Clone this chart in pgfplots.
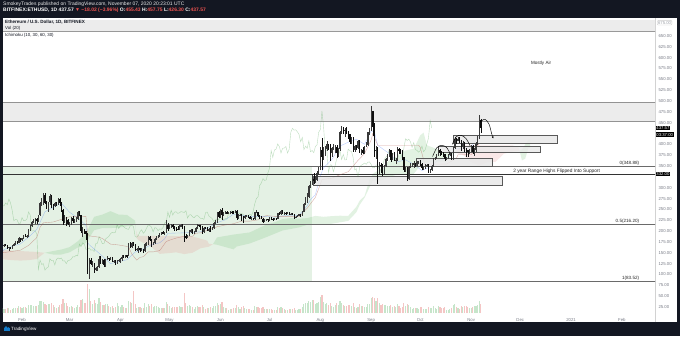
\documentclass[border=0pt]{standalone}
\usepackage{pgfplots}
\pgfplotsset{compat=1.18}
\usepackage{pgfplotstable}
\usetikzlibrary{arrows.meta}
\usepackage{fontspec}
\setmainfont{Liberation Sans}
\newcommand\fs[1]{\fontsize{#1}{#1}\selectfont}
\definecolor{tvdark}{HTML}{131722}
\definecolor{tvgray}{HTML}{787B86}
\definecolor{tvred}{HTML}{EF5350}
\definecolor{bandgray}{HTML}{ECECEC}
\definecolor{boxgray}{HTML}{E8E8E8}
\definecolor{zonegreen}{HTML}{E4F1E4}
\definecolor{lvlline}{HTML}{6A6A6A}
\definecolor{volup}{HTML}{C6E5CA}
\definecolor{voldn}{HTML}{F4C6C5}
\definecolor{candup}{HTML}{3A3A3A}
\definecolor{canddn}{HTML}{0E0E0E}
\definecolor{cloudg}{HTML}{4CAF50}
\definecolor{cloudr}{HTML}{E57373}
\definecolor{convline}{HTML}{2962FF}
\definecolor{baseln}{HTML}{B0524A}
\definecolor{lagline}{HTML}{43A047}
\pgfplotstableread{
d o h l c v u
19 166 171 163 167 5 1
20 167 170 164 169 4 1
21 169 171 166 168 4 0
22 168 169 158 162 5 0
23 162 164 155 162.5 5 1
24 162.5 163 158 160 3 0
25 160 169 158 168 4 1
26 168 172 166 170 5 1
27 170 177 168 175 5 1
28 175 178 171 173 5 0
29 173 186 172 184 7 1
30 184 185 176 180 6 0
31 180 185 178 183 5 1
32 183 191 182 189 6 1
33 189 194 186 188.5 6 0
34 188.5 192 184 189.5 5 1
35 189.5 206 187 204 8 1
36 204 215 201 212 8 1
37 212 224 210 222 8 1
38 222 227 218 223 7 1
39 223 230 217 228 7 1
40 228 230 217 223 7 0
41 223 238 221 236 8 1
42 236 268 235 265 12 1
43 265 276 258 268 12 1
44 268 288 260 284 11 1
45 284 287 263 265 9 0
46 265 269 250 258 8 0
47 258 268 244 267 9 1
48 267 285 261 282 9 1
49 282 283 253 259 10 0
50 259 262 248 258 8 0
51 258 267 255 265 6 1
52 265 267 258 261 5 0
53 261 276 260 274 6 1
54 274 277 258 265 8 0
55 265 266 245 248 9 0
56 248 251 215 224 14 0
57 224 236 219 227 10 1
58 227 232 212 226 10 0
59 226 228 215 217 7 0
60 217 220 210 218 6 1
61 218 233 214 231 7 1
62 231 234 219 224 6 0
63 224 228 219 224.5 5 1
64 224.5 232 222 228 6 1
65 228 247 226 244 8 1
66 244 246 235 237 6 0
67 237 238 196 200 13 0
68 200 209 187 201 14 1
69 201 205 193 200 10 0
70 200 201 180 194 10 0
71 194 195 100 112 29 0
72 112 137 90 133 24 1
73 133 137 121 123 12 0
74 123 130 118 125 9 1
75 125 126 103 110 13 0
76 110 118 107 115 10 1
77 115 120 108 117 9 1
78 117 143 115 136 15 1
79 136 142 124 132 11 0
80 132 135 124 132.5 8 1
81 132.5 135 118 122 8 0
82 122 136 117 135 9 1
83 135 142 133 138 9 1
84 138 139 130 136 7 0
85 136 140 133 138 6 1
86 138 140 128 131 7 0
87 131 133 126 131.5 5 1
88 131.5 133 122 125 6 0
89 125 134 123 132 10 1
90 132 136 128 133 7 1
91 133 138 127 135 6 1
92 135 146 132 141 8 1
93 141 145 138 140.5 6 0
94 140.5 146 139 144 5 1
95 144 145 139 143 5 0
96 143 173 142 170 12 1
97 170 176 162 164 11 0
98 164 175 162 173 10 1
99 173 174 166 170 22 0
100 170 171 155 158 9 0
101 158 160 155 158.5 5 1
102 158.5 166 150 161 6 1
103 161 162 152 156 6 0
104 156 160 153 157 5 1
105 157 158 150 153 5 0
106 153 173 151 171 10 1
107 171 174 166 171.5 6 1
108 171.5 188 169 187 9 1
109 187 188 178 180 7 0
110 180 181 164 171 9 0
111 171 175 167 171.5 6 1
112 171.5 184 170 182 7 1
113 182 189 180 185 7 1
114 185 190 184 188 6 1
115 188 195 186 194 5 1
116 194 199 192 197 5 1
117 197 200 193 196 5 0
118 196 199 192 197 5 1
119 197 226 196 215 11 1
120 215 219 201 206 9 0
121 206 215 204 212 7 1
122 212 216 208 214 5 1
123 214 216 205 210 6 0
124 210 212 201 207 6 0
125 207 209 200 205 6 0
126 205 211 202 204 6 0
127 204 215 203 212 7 1
128 212 216 209 213 6 1
129 213 216 205 211 6 0
130 211 212 176 188 20 0
131 188 194 181 186 10 0
132 186 192 184 190 7 1
133 190 203 189 199 8 1
134 199 205 196 203 7 1
135 203 204 193 195 6 0
136 195 200 194 199 4 1
137 199 210 198 207 6 1
138 207 216 205 214 7 1
139 214 215 209 213 6 0
140 213 215 203 209 6 0
141 209 211 194 198 8 0
142 198 209 195 208 6 1
143 208 210 204 207 4 0
144 207 209 200 201 5 0
145 201 207 199 205 5 1
146 205 211 199 204 6 0
147 204 209 202 208 5 1
148 208 221 206 219 7 1
149 219 225 216 220 7 1
150 220 245 218 244 10 1
151 244 247 230 232 8 0
152 232 251 231 248 9 1
153 248 253 225 237 11 0
154 237 245 235 244 6 1
155 244 247 239 244.5 5 1
156 244.5 246 239 241 5 0
157 241 244 240 242 3 1
158 242 246 239 245 4 1
159 245 247 240 244 4 0
160 244 247 239 243 5 0
161 243 249 242 247 5 1
162 247 248 225 230 8 0
163 230 239 229 237 6 1
164 237 239 234 238 4 1
165 238 239 224 233 6 0
166 233 235 219 231 7 0
167 231 237 229 235 5 1
168 235 238 232 236 4 1
169 236 237 231 233 4 0
170 233 234 227 229 4 0
171 229 232 226 229.5 3 1
172 229.5 230 226 227 3 0
173 227 245 226 243 7 1
174 243 249 241 244 6 1
175 244 245 232 235 6 0
176 235 236 228 232 5 0
177 232 234 228 229 5 0
178 229 230 219 222 6 0
179 222 227 220 226 4 1
180 226 229 224 228 4 1
181 228 228 222 226 4 0
182 226 232 224 231 4 1
183 231 232 225 229 4 0
184 229 230 224 226 3 0
185 226 230 225 229 3 1
186 229 230 226 228 3 0
187 228 242 227 241 6 1
188 241 244 237 239 5 0
189 239 248 237 247 6 1
190 247 248 239 242 5 0
191 242 243 236 242.5 4 1
192 242.5 243 238 240 3 0
193 240 243 239 242 3 1
194 242 244 237 240 4 0
195 240 242 236 240.5 4 1
196 240.5 241 236 238 4 0
197 238 239 229 233 5 0
198 233 234 230 233.5 3 1
199 233.5 237 232 236 3 1
200 236 240 234 239 4 1
201 239 240 233 236 4 0
202 236 246 235 245 6 1
203 245 265 244 263 9 1
204 263 278 261 275 10 1
205 275 288 265 279 10 1
206 279 307 277 305 12 1
207 305 315 299 311 11 1
208 311 330 307 321 13 1
209 321 335 309 317 13 0
210 317 326 312 318 9 1
211 318 339 316 334 10 1
212 334 349 332 345 11 1
213 345 395 341 386 16 1
214 386 415 340 370 18 0
215 370 393 365 387 11 1
216 387 396 374 389 9 1
217 389 407 385 401 10 1
218 401 402 386 395 8 0
219 395 400 362 380 10 0
220 380 395 372 391 7 1
221 391 400 387 391.5 6 1
222 391.5 398 381 395 8 1
223 395 398 368 380 10 0
224 380 391 370 389 8 1
225 389 431 385 428 12 1
226 428 442 425 437 10 1
227 437 440 423 433 8 0
228 433 437 417 433.5 7 1
229 433.5 441 423 429 7 0
230 429 432 412 423 8 0
231 423 425 402 406 8 0
232 406 418 402 416 7 1
233 416 418 383 388 10 0
234 388 398 383 396 6 1
235 396 398 388 391 5 0
236 391 410 390 408 6 1
237 408 410 379 383 9 0
238 383 390 375 386 7 1
239 386 393 377 381 7 0
240 381 397 378 395 6 1
241 395 405 393 399 6 1
242 399 429 397 428 9 1
243 428 437 422 434 9 1
244 434 488 430 477 15 1
245 477 478 420 440 16 0
246 440 450 370 385 15 0
247 385 397 367 388 12 1
248 388 393 308 335 15 0
249 335 359 331 353 10 1
250 353 356 333 352 8 0
251 352 354 326 337 9 0
252 337 353 332 351 8 1
253 351 369 348 367 8 1
254 367 377 362 373 7 1
255 373 390 370 386 7 1
256 386 388 360 365 8 0
257 365 380 364 377 6 1
258 377 383 361 364 7 0
259 364 369 355 365 6 1
260 365 393 362 389 9 1
261 389 392 377 385 7 0
262 385 389 378 384 5 0
263 384 386 365 370 6 0
264 370 371 336 341 10 0
265 341 349 336 344 7 1
266 344 348 316 321 9 0
267 321 351 318 348 8 1
268 348 356 345 352 6 1
269 352 357 349 354 4 1
270 354 361 346 357 5 1
271 357 358 349 354 5 0
272 354 361 350 359 5 1
273 359 362 355 359.5 4 1
274 359.5 363 350 354 6 0
275 354 357 340 346 6 0
276 346 348 342 346.5 4 1
277 346.5 354 344 352 4 1
278 352 355 348 353 4 1
279 353 354 335 340 6 0
280 340 343 334 341 5 1
281 341 353 338 350 5 1
282 350 368 348 365 7 1
283 365 372 364 370 5 1
284 370 377 367 375 4 1
285 375 393 373 387 7 1
286 387 389 374 381 6 0
287 381 385 376 380 5 0
288 380 382 372 377 5 0
289 377 378 362 366 6 0
290 366 370 365 368 3 1
291 368 378 367 377 3 1
292 377 382 374 379 4 1
293 379 380 363 368 5 0
294 368 394 365 392 8 1
295 392 418 389 413 9 1
296 413 414 402 409 6 0
297 409 418 408 412 5 1
298 412 416 404 406 4 0
299 406 410 384 393 7 0
300 393 407 390 404 6 1
301 404 406 383 388 7 0
302 388 391 372 386 7 0
303 386 387 371 382 6 0
304 382 390 378 386 5 1
305 386 398 383 396 5 1
306 396 398 377 383 6 0
307 383 391 373 388 7 1
308 388 405 382 401 7 1
309 401 419 399 415 8 1
310 415 467 413 455 12 1
311 455.43 457.75 426.3 437.57 9 0
}\eth
\begin{document}
\begin{tikzpicture}[x=1bp,y=1bp]
\fill[tvdark] (0,0) rectangle (680,336);
\fill[white] (3,14) rectangle (677,317.5);
\draw[gray!35, line width=0.6bp] (655,14) -- (655,317.5);
\begin{axis}[
  at={(3bp,23bp)}, anchor=south west, scale only axis,
  width=652bp, height=293bp,
  xmin=19.4, xmax=417.2, ymin=11.1, ymax=686.9,
  axis line style={draw=none},
  yticklabel pos=right,
  ytick={25,50,75,100,125,150,175,200,225,250,275,300,350,375,400,450,475,500,525,550,575,600,625,650},
  xtick={31,60,91,121,152,182,213,244,274,305,335,366,397},
  xticklabels={Feb,Mar,Apr,May,Jun,Jul,Aug,Sep,Oct,Nov,Dec,2021,Feb},
  major tick length=0pt,
  yticklabel style={font=\fs{4.3}, text=tvgray, /pgf/number format/.cd, fixed, fixed zerofill, precision=2, 1000 sep={}, assume math mode=true},
  xticklabel style={font=\fs{4.3}, text=tvgray, yshift=-2bp},
]
% top band and 450-496 band
\addplot[fill=bandgray, draw=none, forget plot] coordinates {(0,661.5) (500,661.5) (500,720) (0,720)} -- cycle;
\addplot[gray!80, line width=0.7bp, forget plot] coordinates {(0,661.5) (500,661.5)};
\addplot[fill=bandgray, draw=none, forget plot] coordinates {(0,452) (500,452) (500,496) (0,496)} -- cycle;
\addplot[gray!85, line width=0.7bp, forget plot] coordinates {(0,452) (500,452)};
\addplot[gray!85, line width=0.7bp, forget plot] coordinates {(0,496) (500,496)};
% green zone
\addplot[fill=zonegreen, draw=none, forget plot] coordinates {(0,83.52) (207.7,83.52) (207.7,348.88) (0,348.88)} -- cycle;
% ichimoku cloud
\addplot[fill=cloudr, fill opacity=0.16, draw=none, forget plot] coordinates {(19,135) (25,133) (30,132) (35,133) (40,135.5) (44.8,150) (40,152) (35,153) (30,154) (25,155) (19,157)} -- cycle;
\addplot[fill=cloudg, fill opacity=0.16, draw=none, forget plot] coordinates {(44.8,150) (50,154) (55,157.5) (60,163) (65,176.5) (70,194.5) (75,233) (80,238) (85,246) (90,238) (95,237.5) (100,224) (100.5,204) (100,215) (95,211) (90,208) (85,207) (80,207) (75,202) (70,173) (65,162) (60,151) (55,146) (50,146)} -- cycle;
\addplot[fill=cloudr, fill opacity=0.16, draw=none, forget plot] coordinates {(100.5,204) (101,184) (102,179) (110,163) (115,147.5) (120,149) (125,151) (130,147) (135,150) (140,160.5) (145,164) (147.5,170) (145,170.5) (144,178) (139,183.5) (135,187.5) (134,188.5) (110,189) (102,189) (101,194)} -- cycle;
\addplot[fill=cloudg, fill opacity=0.16, draw=none, forget plot] coordinates {(147.5,170) (150,185.5) (160,192) (170,197) (180,215) (185,220) (190,228) (195,230) (200,228.5) (205,230) (210,235) (215,233) (220,234.5) (225,235.5) (230,235) (235,256) (237,270) (240,281) (243,318) (245,332) (250,344) (255,363) (260,371) (265,386) (270,390) (274,421) (276,427) (278,398) (285,388) (290,379) (294.5,381) (290,360.5) (285,358.5) (280,358.5) (275,356) (270,332) (265,330.5) (260,330.5) (255,325) (250,317) (245,317) (240,277) (237,260.5) (235,243.5) (230,223.5) (220,217) (210,214.5) (205,214.5) (200,208.5) (190,201.5) (180,186) (170,171.5) (162,164.5) (160,158) (150,168.5)} -- cycle;
\addplot[fill=cloudr, fill opacity=0.16, draw=none, forget plot] coordinates {(294.5,381) (300,376) (305,359) (310,351.5) (315,359) (320,360) (325,378.5) (330,383) (334.6,385) (334,393) (330,398) (305,398) (300,398) (295,382.5)} -- cycle;
\addplot[fill=cloudg, fill opacity=0.16, draw=none, forget plot] coordinates {(334.6,385) (336,388) (340,411) (341,411) (341,391.5) (340,391.5) (338,367) (336,363) (335,379)} -- cycle;
% level lines
\addplot[lvlline, line width=0.6bp, forget plot] coordinates {(0,348.88) (500,348.88)};
\addplot[black!80, line width=0.6bp, forget plot] coordinates {(0,332) (500,332)};
\addplot[lvlline, line width=0.6bp, forget plot] coordinates {(0,216.2) (500,216.2)};
\addplot[lvlline, line width=0.6bp, forget plot] coordinates {(0,83.52) (500,83.52)};
% ichimoku lines
\addplot[lagline, line width=0.4bp, opacity=0.35, forget plot] table[x expr=\thisrow{d}-30, y=c] {\eth};
\addplot[convline, line width=0.35bp, opacity=0.35, forget plot] coordinates {(19,152) (20,157.5) (25,165) (30,170.5) (35,186) (40,204) (45,244.5) (50,254.5) (55,264.5) (60,243.5) (65,230.5) (70,213.5) (71,173.5) (72,168.5) (80,142.5) (85,125) (90,129.5) (95,134) (100,151.5) (105,159) (110,169) (115,173) (118,182) (120,195) (130,196) (140,198.5) (150,219.5) (155,226) (160,239) (165,236.5) (170,234) (180,234) (185,232) (190,235) (195,237) (200,236) (205,258.5) (207,272.5) (210,284) (213,328) (215,346) (220,365) (225,396) (230,405) (235,412) (240,400) (244,431) (246,429) (248,398) (255,379) (260,359.5) (265,364.5) (270,354) (275,339.5) (280,348.5) (285,363.5) (290,365.5) (295,390) (300,390.5) (305,394.5) (310,419) (311,419)};
\addplot[baseln, line width=0.35bp, opacity=0.5, forget plot] coordinates {(19,150) (30,156) (35,167) (40,185) (42,209) (44,219) (50,221) (60,233) (70,234) (71,194) (72,189) (78,186) (80,183) (85,170) (90,168) (96,164) (98,147) (101,133) (103,139.5) (105,141) (108,152) (111,152) (115,155) (119,176) (121,179) (125,184) (130,188) (135,188) (137,195) (140,196) (150,210) (155,214) (160,217) (165,223) (170,223) (175,226) (180,236) (185,234) (195,234) (200,233.5) (205,253) (210,278) (213,308) (214,319) (220,322) (225,330) (230,337) (235,359) (240,379) (244,410) (245,425) (248,398) (273,398) (274,393) (275,379) (277,350.5) (278,354.5) (290,354.5) (296,368) (297,376) (305,376) (310,402.5) (311,402.5)};
% boxes
\addplot[fill=boxgray, fill opacity=0.85, draw=black!65, line width=0.5bp, forget plot] coordinates {(208.6,306.3) (323.7,306.3) (323.7,327) (208.6,327)} -- cycle;
\addplot[fill=boxgray, fill opacity=0.85, draw=black!65, line width=0.5bp, forget plot] coordinates {(271.4,350) (317.6,350) (317.6,367) (271.4,367)} -- cycle;
\addplot[fill=boxgray, fill opacity=0.75, draw=black!65, line width=0.5bp, forget plot] coordinates {(284.8,381.7) (347,381.7) (347,396.3) (284.8,396.3)} -- cycle;
\addplot[fill=boxgray, fill opacity=0.85, draw=black!65, line width=0.5bp, forget plot] coordinates {(294,402.5) (357.4,402.5) (357.4,421.6) (294,421.6)} -- cycle;
% candles: wicks then bodies; error length is zero for the other direction
\addplot[draw=none, mark=none, forget plot,
  error bars/.cd, y dir=both, y explicit, error mark=none,
  error bar style={draw=candup, line width=0.4bp}]
  table[x=d, y expr={(\thisrow{h}+\thisrow{l})/2}, y error expr={\thisrow{u}*(\thisrow{h}-\thisrow{l})/2}] {\eth};
\addplot[draw=none, mark=none, forget plot,
  error bars/.cd, y dir=both, y explicit, error mark=none,
  error bar style={draw=canddn, line width=0.4bp}]
  table[x=d, y expr={(\thisrow{h}+\thisrow{l})/2}, y error expr={(1-\thisrow{u})*(\thisrow{h}-\thisrow{l})/2}] {\eth};
\addplot[draw=none, mark=none, forget plot,
  error bars/.cd, y dir=both, y explicit, error mark=none,
  error bar style={draw=candup, line width=1.1bp}]
  table[x=d, y expr={(\thisrow{o}+\thisrow{c})/2}, y error expr={\thisrow{u}*abs(\thisrow{c}-\thisrow{o})/2}] {\eth};
\addplot[draw=none, mark=none, forget plot,
  error bars/.cd, y dir=both, y explicit, error mark=none,
  error bar style={draw=canddn, line width=1.1bp}]
  table[x=d, y expr={(\thisrow{o}+\thisrow{c})/2}, y error expr={(1-\thisrow{u})*abs(\thisrow{c}-\thisrow{o})/2}] {\eth};
% drawn path arcs
\addplot[black, line width=0.45bp, smooth, forget plot] coordinates {(281.5,372) (284,392) (287,398) (290,393) (292,380)};
\addplot[black, line width=0.45bp, smooth, forget plot] coordinates {(293.5,400) (296,418) (299,421) (302,413) (304.5,396)};
\addplot[black, line width=0.45bp, smooth, -{Stealth[length=2bp,width=2bp]}, forget plot] coordinates {(310.5,452) (313.5,458) (316,446) (317.5,425) (318.5,414)};
% texts
\node[anchor=south east, font=\fs{4.6}, text=black!85, inner sep=0.6bp] at (axis cs:408,348.88) {0(348.88)};
\node[anchor=south east, font=\fs{4.6}, text=black!85, inner sep=0.6bp] at (axis cs:408,216.2) {0.5(216.20)};
\node[anchor=south east, font=\fs{4.6}, text=black!85, inner sep=0.6bp] at (axis cs:408,83.52) {1(83.52)};
\node[anchor=west, font=\fs{4.8}, text=black!85, inner sep=0pt] at (axis cs:330.6,338.5) {2 year Range Highs Flipped Into Support};
\node[font=\fs{4.6}, text=black!85] at (axis cs:347.7,588) {Mostly Air};
\end{axis}
\begin{axis}[
  at={(3bp,23bp)}, anchor=south west, scale only axis,
  width=652bp, height=293bp,
  xmin=19.4, xmax=417.2, ymin=0, ymax=293,
  hide axis,
]
\addplot[ycomb, draw=volup, line width=1.1bp, mark=none] table[x=d, y expr={\thisrow{u}*\thisrow{v}}] {\eth};
\addplot[ycomb, draw=voldn, line width=1.1bp, mark=none] table[x=d, y expr={(1-\thisrow{u})*\thisrow{v}}] {\eth};
\end{axis}
% header
\node[anchor=west, font=\fs{5}, text=white!85!gray, inner sep=0pt] at (3,331.7) {SmokeyTrades published on TradingView.com, November 07, 2020 20:23:01 UTC};
\node[anchor=west, font=\fs{5}\bfseries, text=white, inner sep=0pt] at (3,325.5) {BITFINEX:ETHUSD, 1D 437.57 \textcolor{tvred}{▼ −18.02 (−3.96\%)} O:\textcolor{tvred}{455.43} H:\textcolor{tvred}{457.75} L:\textcolor{tvred}{426.30} C:\textcolor{tvred}{437.57}};
% legend
\node[anchor=west, font=\fs{4.6}\bfseries, text=tvdark, inner sep=0pt] at (5,313.7) {Ethereum / U.S. Dollar, 1D, BITFINEX};
\node[anchor=west, font=\fs{4.4}, text=tvdark, inner sep=0pt] at (5,307.6) {Vol (20)};
\node[anchor=west, font=\fs{4.4}, text=tvdark, inner sep=0pt] at (5,301) {Ichimoku (10, 30, 60, 30)};
% right price labels
\node[anchor=west, fill=black, text=white, font=\fs{4.3}, inner sep=0.7bp] at (655.5,208.1) {437.57};
\node[anchor=west, fill=black, text=white, font=\fs{4.3}, inner sep=0.7bp] at (655.5,201.3) {03:37:00};
\node[anchor=west, fill=black, text=white, font=\fs{4.3}, inner sep=0.7bp] at (655.5,162.1) {332.00};
\node[anchor=west, draw=gray!40, rounded corners=1bp, text=tvgray!70, font=\fs{4.3}, inner sep=0.8bp] at (657,313.3) {675.00};
% footer
\fill[cyan!60!blue] (4,5.5) rectangle (10,8.2);
\fill[cyan!60!blue] (6,8.2) circle (1.6);
\fill[cyan!60!blue] (8.6,7.6) circle (1.3);
\node[anchor=west, font=\fs{4.6}, text=white, inner sep=0pt] at (11,7) {TradingView};
\pgfresetboundingbox
\useasboundingbox (0,0) rectangle (680,336);
\end{tikzpicture}
\end{document}
